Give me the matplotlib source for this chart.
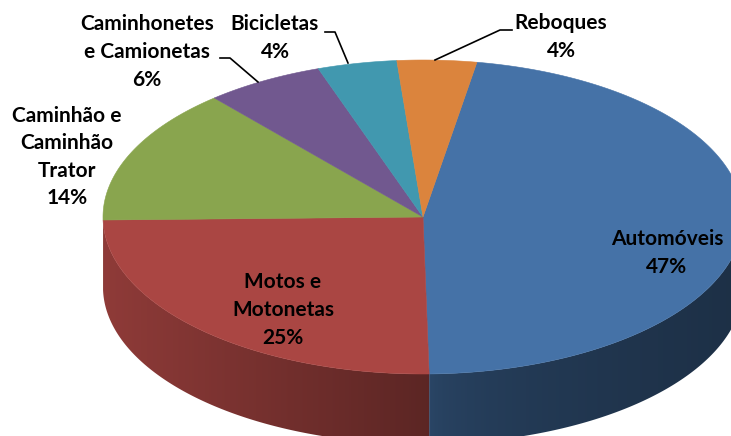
import numpy as np
import matplotlib
matplotlib.use("Agg")
import matplotlib.pyplot as plt
from matplotlib.patches import Polygon
from matplotlib.colors import to_rgb

# ---- data ----
categories = ["Automóveis", "Motos e\nMotonetas", "Caminhão e\nCaminhão\nTrator",
              "Caminhonetes\ne Camionetas", "Bicicletas", "Reboques"]
values = [47, 25, 14, 6, 4, 4]
pct_labels = ["47%", "25%", "14%", "6%", "4%", "4%"]
colors = ["#4572A7", "#AA4643", "#89A54E", "#71588F", "#4198AF", "#DB843D"]

# ---- layout ----
W, H = 731, 436
cx, cy = 423.0, 217.0     # centre of the top ellipse (pixels)
a, b = 320.0, 157.0       # half axes
depth = 70.0
start_angle = 80.3        # degrees, clockwise drawing

fig = plt.figure(figsize=(W / 100, H / 100), dpi=100)
ax = fig.add_axes([0, 0, 1, 1])


def pt(t_deg, dz=0.0):
    t = np.radians(t_deg)
    return cx + a * np.cos(t), cy - b * np.sin(t) + dz


total = float(sum(values))
bounds = []
ang = start_angle
for v in values:
    span = 360.0 * v / total
    bounds.append((ang, ang - span))
    ang -= span

# ---- side walls (front half only), gradient clipped to the wall shape ----
shade = {0: (0.62, 0.42), 1: (0.84, 0.54)}
for i, (t0, t1) in enumerate(bounds):
    segs = []
    for off in (0, -360, 360):
        h2, l2 = t0 + off, t1 + off
        s_hi = min(h2, 0.0)
        s_lo = max(l2, -180.0)
        if s_hi > s_lo:
            segs.append((s_hi, s_lo))
    base = np.array(to_rgb(colors[i]))
    f0, f1 = shade.get(i, (0.8, 0.5))
    for s_hi, s_lo in segs:
        ts = np.linspace(s_lo, s_hi, 300)
        top = [pt(t) for t in ts]
        bot = [pt(t, depth) for t in ts[::-1]]
        verts = top + bot
        poly = Polygon(verts, closed=True, facecolor="none", edgecolor="none")
        ax.add_patch(poly)
        xs = np.array([p[0] for p in verts])
        ys = np.array([p[1] for p in verts])
        xmin, xmax = xs.min(), xs.max()
        ymin, ymax = ys.min(), ys.max()
        n = 256
        fr = np.linspace(0, 1, n)
        if i == 0:
            fr = np.sqrt(fr)
        f = f0 + (f1 - f0) * fr
        img = np.clip(base[None, None, :] * f[None, :, None], 0, 1)
        im = ax.imshow(img, extent=[xmin, xmax, ymax, ymin], aspect="auto",
                       interpolation="bilinear", zorder=1)
        im.set_clip_path(poly)

# ---- top faces ----
for i, (t0, t1) in enumerate(bounds):
    ts = np.linspace(t0, t1, 200)
    verts = [(cx, cy)] + [pt(t) for t in ts]
    ax.add_patch(Polygon(verts, closed=True, facecolor=colors[i],
                         edgecolor=colors[i], linewidth=0.4, zorder=2))

# ---- labels ----
font = dict(family=["Lato", "DejaVu Sans"], fontweight="bold", fontsize=15,
            color="black", ha="center", va="center", linespacing=1.47, zorder=5)
label_pos = [(667, 253), (283, 310), (67, 157), (147, 52), (275, 38), (561, 37)]
for cat, pl, (x, y) in zip(categories, pct_labels, label_pos):
    ax.text(x, y, cat + "\n" + pl, multialignment="center", **font)

# leader lines
leaders = [
    ([220, 230, 258], [58, 58, 82]),     # Caminhonetes
    ([325, 335, 348], [32, 32, 63]),     # Bicicletas
    ([512, 500, 435], [30, 30, 60]),     # Reboques
]
for xs, ys in leaders:
    ax.plot(xs, ys, color="black", linewidth=1.2, zorder=4)

ax.set_xlim(0, W)
ax.set_ylim(H, 0)
ax.axis("off")

fig.savefig("out.png", dpi=100)
